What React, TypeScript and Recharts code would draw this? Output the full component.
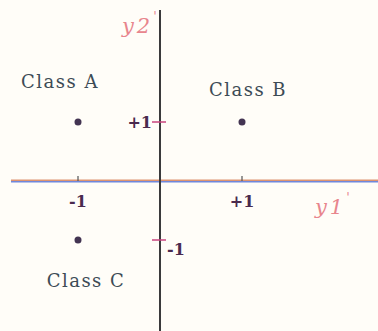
import { ScatterChart, Scatter, XAxis, YAxis, ReferenceLine, ReferenceDot } from 'recharts';

// class points in (y1', y2') space
const classNames = ['Class A', 'Class B', 'Class C'];
const y1Values = [-1, 1, -1];
const y2Values = [1, 1, -1];

const y1Ticks = [-1, 1];
const y2Ticks = [1, -1];

const points = classNames.map((name, i) => ({ name, y1: y1Values[i], y2: y2Values[i] }));

// pixel offsets of the class captions from their dots
const captionOffset: Record<string, [number, number]> = {
    'Class A': [-18, -34],
    'Class B': [6, -26],
    'Class C': [8, 47],
};

const fmt = (v: number) => (v > 0 ? `+${v}` : `${v}`);

const serif = '"DejaVu Serif", "Liberation Serif", serif';
const pink = '#e8858d';

export default function App() {
    return (
        <div style={{ position: 'absolute', left: 0, top: 0, width: 378, height: 331, background: '#fffdf8' }}>
            <ScatterChart width={378} height={331} margin={{ top: 10, right: 0, bottom: 0, left: 11 }}>
                <XAxis type="number" dataKey="y1" scale="linear" domain={[-1.8171, 2.6585]} allowDataOverflow hide />
                <YAxis type="number" dataKey="y2" scale="linear" domain={[-2.5424, 2.8983]} allowDataOverflow hide />

                <ReferenceLine
                    y={0}
                    ifOverflow="visible"
                    shape={(p: any) => (
                        <g>
                            <line x1={p.x1} x2={p.x2} y1={p.y1 - 0.75} y2={p.y2 - 0.75} stroke="#de9470" strokeWidth={1.5} />
                            <line x1={p.x1} x2={p.x2} y1={p.y1 + 0.75} y2={p.y2 + 0.75} stroke="#7088dc" strokeWidth={1.5} />
                        </g>
                    )}
                    label={(p: any) => (
                        <text x={p.viewBox.x + p.viewBox.width - 63} y={p.viewBox.y + 33} fill={pink} fontFamily={serif} fontStyle="italic" fontSize={21} letterSpacing={3}>
                            y1<tspan dy={-12} fontSize={13}>'</tspan>
                        </text>
                    )}
                />
                <ReferenceLine
                    x={0}
                    stroke="#3a3a3c"
                    strokeWidth={2}
                    ifOverflow="visible"
                    label={(p: any) => (
                        <text x={p.viewBox.x - 38} y={p.viewBox.y + 23} fill={pink} fontFamily={serif} fontStyle="italic" fontSize={21} letterSpacing={3}>
                            y2<tspan dy={-12} fontSize={13}>'</tspan>
                        </text>
                    )}
                />

                {y1Ticks.map((t) => (
                    <ReferenceDot
                        key={`x${t}`}
                        x={t}
                        y={0}
                        ifOverflow="visible"
                        shape={(p: any) => (
                            <g>
                                <line x1={p.cx} x2={p.cx} y1={p.cy - 5} y2={p.cy} stroke="#555" strokeWidth={1.2} />
                                <text x={p.cx} y={p.cy + 26} textAnchor="middle" fill="#4a2a4e" fontFamily={serif} fontWeight="bold" fontSize={16}>
                                    {fmt(t)}
                                </text>
                            </g>
                        )}
                    />
                ))}
                {y2Ticks.map((t) => (
                    <ReferenceDot
                        key={`y${t}`}
                        x={0}
                        y={t}
                        ifOverflow="visible"
                        shape={(p: any) => (
                            <g>
                                <line x1={p.cx - 8} x2={p.cx + 6} y1={p.cy} y2={p.cy} stroke="#c8437e" strokeWidth={1.5} />
                                <text
                                    x={t > 0 ? p.cx - 8 : p.cx + 7}
                                    y={t > 0 ? p.cy + 6 : p.cy + 15}
                                    textAnchor={t > 0 ? 'end' : 'start'}
                                    fill="#4a2a4e"
                                    fontFamily={serif}
                                    fontWeight="bold"
                                    fontSize={16}
                                >
                                    {fmt(t)}
                                </text>
                            </g>
                        )}
                    />
                ))}

                <Scatter
                    data={points}
                    isAnimationActive={false}
                    shape={(p: any) => <circle cx={p.cx} cy={p.cy} r={3.5} fill="#433452" />}
                />

                {points.map((d) => (
                    <ReferenceDot
                        key={d.name}
                        x={d.y1}
                        y={d.y2}
                        shape={(p: any) => (
                            <text
                                x={p.cx + captionOffset[d.name][0]}
                                y={p.cy + captionOffset[d.name][1]}
                                textAnchor="middle"
                                fill="#3d4b55"
                                fontFamily={serif}
                                fontSize={18}
                                letterSpacing={1.5}
                            >
                                {d.name}
                            </text>
                        )}
                    />
                ))}
            </ScatterChart>
        </div>
    );
}
